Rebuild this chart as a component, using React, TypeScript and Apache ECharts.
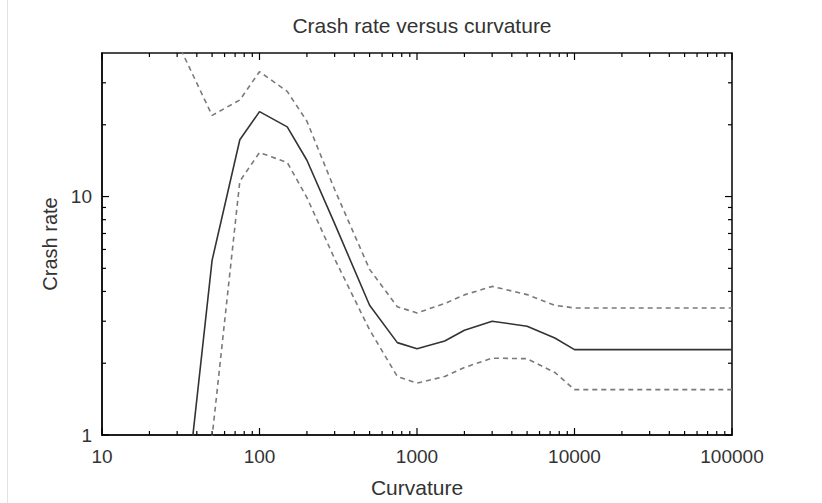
import React, { useEffect, useRef } from 'react';
import * as echarts from 'echarts';

// ---- data ----
const curvature = [30, 50, 75, 100, 150, 200, 300, 500, 750, 1000, 1500, 2000, 3000, 5000, 7500, 10000, 100000];
const crashRate = [0.25, 5.4, 17.3, 22.7, 19.6, 14.2, 7.7, 3.5, 2.44, 2.3, 2.48, 2.75, 3.0, 2.86, 2.55, 2.28, 2.28];
const upperBound = [44.6, 21.9, 25.4, 33.4, 27.6, 20.7, 10.7, 4.95, 3.45, 3.25, 3.56, 3.87, 4.2, 3.88, 3.5, 3.41, 3.41];
const lowerBound = [0.3, 0.98, 11.6, 15.3, 13.9, 9.9, 5.48, 2.76, 1.76, 1.65, 1.76, 1.92, 2.1, 2.09, 1.83, 1.55, 1.55];

const X_MIN = 10;
const X_MAX = 100000;
const Y_MIN = 1;
const Y_MAX = 40;

const xMajorTicks = [10, 100, 1000, 10000, 100000];
const yMajorTicks = [1, 10];
const minorSteps = [2, 3, 4, 5, 6, 7, 8, 9];
const yMinorTicks = [2, 3, 4, 5, 6, 7, 8, 9, 20, 30];

const FONT = '"Liberation Sans", Arial, sans-serif';
const TEXT = '#333';

export default function App() {
  const ref = useRef<HTMLDivElement>(null);

  useEffect(() => {
    if (!ref.current) return;
    const chart = echarts.init(ref.current, null, { renderer: 'svg' });

    const xTickData: number[][] = [];
    xMajorTicks.forEach((v) => xTickData.push([v, Y_MIN, 7]));
    xMajorTicks.slice(0, -1).forEach((d) => minorSteps.forEach((m) => xTickData.push([d * m, Y_MIN, 4])));
    const yTickData: number[][] = [];
    yMajorTicks.forEach((v) => yTickData.push([X_MIN, v, 7]));
    yMinorTicks.forEach((v) => yTickData.push([X_MIN, v, 4]));

    const tickStyle = { stroke: '#000', lineWidth: 1.2 };

    const fmt = (v: number) => {
      const r = Math.round(v);
      const l = Math.log10(r);
      return Math.abs(l - Math.round(l)) < 1e-6 ? String(r) : '';
    };

    const option: any = {
      animation: false,
      backgroundColor: '#fff',
      title: {
        text: 'Crash rate versus curvature',
        left: 417,
        textAlign: 'center',
        top: 10,
        textStyle: { fontFamily: FONT, fontSize: 21, fontWeight: 'normal', color: TEXT },
      },
      graphic: [
        { type: 'rect', shape: { x: 7, y: 0, width: 1, height: 503 }, style: { fill: '#e2e2e2' }, silent: true },
      ],
      grid: {
        left: 102,
        right: 90,
        top: 53,
        bottom: 64,
        show: true,
        borderColor: '#111',
        borderWidth: 1.6,
        backgroundColor: 'transparent',
      },
      xAxis: {
        type: 'log',
        logBase: 10,
        min: X_MIN,
        max: X_MAX,
        name: 'Curvature',
        nameLocation: 'middle',
        nameGap: 42,
        nameTextStyle: { fontFamily: FONT, fontSize: 21, color: TEXT },
        axisLine: { show: true, lineStyle: { color: '#111', width: 1.6 } },
        axisTick: { show: false },
        splitLine: { show: false },
        minorTick: { show: false },
        axisLabel: {
          margin: 12,
          fontFamily: FONT,
          fontSize: 19,
          color: TEXT,
          formatter: fmt,
          showMinLabel: true,
          showMaxLabel: true,
        },
      },
      yAxis: {
        type: 'log',
        logBase: 10,
        min: Y_MIN,
        max: Y_MAX,
        name: 'Crash rate',
        nameLocation: 'middle',
        nameGap: 40,
        nameRotate: 90,
        nameTextStyle: { fontFamily: FONT, fontSize: 20, color: TEXT },
        axisLine: { show: true, lineStyle: { color: '#111', width: 1.6 } },
        axisTick: { show: false },
        splitLine: { show: false },
        minorTick: { show: false },
        axisLabel: {
          margin: 10,
          fontFamily: FONT,
          fontSize: 19,
          color: TEXT,
          formatter: fmt,
          showMaxLabel: false,
        },
      },
      series: [
        {
          type: 'line',
          name: 'upper',
          data: curvature.map((x, i) => [x, upperBound[i]]),
          showSymbol: false,
          clip: true,
          lineStyle: { color: '#7a7a7a', width: 1.6, type: [5, 4] },
          silent: true,
        },
        {
          type: 'line',
          name: 'lower',
          data: curvature.map((x, i) => [x, lowerBound[i]]),
          showSymbol: false,
          clip: true,
          lineStyle: { color: '#7a7a7a', width: 1.6, type: [5, 4] },
          silent: true,
        },
        {
          type: 'line',
          name: 'crash rate',
          data: curvature.map((x, i) => [x, crashRate[i]]),
          showSymbol: false,
          clip: true,
          lineStyle: { color: '#333', width: 1.6 },
          silent: true,
        },
        {
          type: 'custom',
          silent: true,
          clip: false,
          z: 10,
          encode: { x: 0, y: 1 },
          data: xTickData,
          renderItem: (params: any, api: any) => {
            const v = api.value(0);
            const len = api.value(2);
            const a = api.coord([v, Y_MIN]);
            const b = api.coord([v, Y_MAX]);
            return {
              type: 'group',
              children: [
                { type: 'line', shape: { x1: a[0], y1: a[1], x2: a[0], y2: a[1] - len }, style: tickStyle },
                { type: 'line', shape: { x1: b[0], y1: b[1], x2: b[0], y2: b[1] + len }, style: tickStyle },
              ],
            };
          },
        },
        {
          type: 'custom',
          silent: true,
          clip: false,
          z: 10,
          encode: { x: 0, y: 1 },
          data: yTickData,
          renderItem: (params: any, api: any) => {
            const v = api.value(1);
            const len = api.value(2);
            const a = api.coord([X_MIN, v]);
            const b = api.coord([X_MAX, v]);
            return {
              type: 'group',
              children: [
                { type: 'line', shape: { x1: a[0], y1: a[1], x2: a[0] + len, y2: a[1] }, style: tickStyle },
                { type: 'line', shape: { x1: b[0], y1: b[1], x2: b[0] - len, y2: b[1] }, style: tickStyle },
              ],
            };
          },
        },
      ],
    };

    chart.setOption(option);
    return () => chart.dispose();
  }, []);

  return (
    <div
      ref={ref}
      style={{ position: 'fixed', left: 0, top: 0, width: 822, height: 503, background: '#fff' }}
    />
  );
}
